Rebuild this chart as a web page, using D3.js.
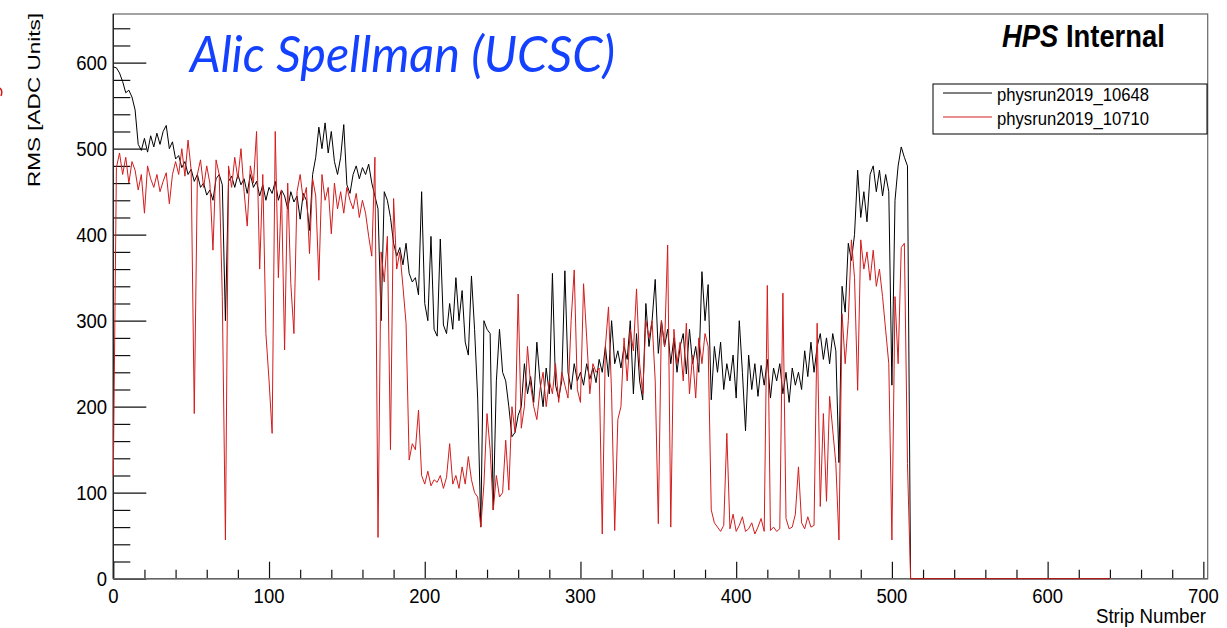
<!DOCTYPE html>
<html>
<head>
<meta charset="utf-8">
<script src="https://cdn.jsdelivr.net/npm/d3@7"></script>
<style>
  html, body { margin: 0; padding: 0; background: #fff; }
  svg { font-family: 'Liberation Sans', Arial, Helvetica, sans-serif; }
</style>
</head>
<body>
<svg id="chart"></svg>
<script>
// RMS per strip, one value every 2 strips (0, 2, 4 ... 510)
const stripStep = 2;
const run10648 = [
  595,594,588,578,565,568,560,545,505,498,512,496,515,502,518,505,
  520,527,500,508,488,492,478,485,470,476,462,470,455,460,446,452,
  440,465,470,458,300,462,468,455,470,458,465,448,470,455,462,445,
  458,440,455,448,462,440,452,445,430,450,438,445,418,448,440,405,
  470,490,525,500,530,495,520,485,470,490,528,458,448,470,480,465,
  478,470,482,460,445,430,300,450,440,420,390,375,385,365,390,355,
  345,350,330,450,320,300,398,290,282,395,295,285,320,290,350,300,
  335,275,260,352,290,210,60,300,290,285,80,230,290,240,230,200,
  165,170,190,200,250,215,235,205,275,230,200,245,215,355,225,210,
  230,358,240,220,250,230,240,225,250,232,245,228,255,240,270,235,
  300,250,265,245,270,255,300,215,285,230,208,320,270,300,348,262,
  300,270,290,250,280,240,270,285,238,290,250,270,240,357,300,342,
  208,270,240,275,220,250,230,260,210,300,240,172,260,220,250,212,
  248,225,255,210,245,230,250,215,240,205,245,225,240,220,265,235,
  275,240,270,285,255,280,250,285,265,135,340,310,390,370,400,475,
  420,450,415,470,480,450,475,445,470,450,225,440,480,502,490,480
];
const run10710 = [
  120,478,495,470,490,460,485,475,452,470,425,480,465,455,470,450,
  462,472,436,470,485,470,500,468,510,475,192,470,487,455,480,460,
  382,487,470,328,45,480,455,490,465,500,450,410,480,460,520,360,
  470,285,231,169,520,350,452,266,460,343,285,450,470,440,455,378,
  465,445,347,470,440,455,401,460,430,450,425,455,440,430,448,420,
  440,425,398,375,490,48,380,345,398,150,442,360,380,340,297,138,
  157,150,196,120,110,125,108,115,112,120,105,118,157,110,120,105,
  130,110,142,115,100,95,60,110,192,150,80,120,95,100,161,103,
  200,170,331,175,200,270,225,200,185,220,240,200,230,215,250,205,
  240,225,210,300,359,220,205,343,280,215,250,240,245,52,270,316,
  215,56,185,200,280,230,290,265,337,250,215,300,280,300,230,64,
  300,270,388,60,290,250,275,230,297,215,260,210,280,250,285,270,
  80,65,60,55,62,169,58,75,55,62,72,55,58,65,52,60,
  70,55,341,56,60,55,58,332,70,58,60,75,130,65,58,72,
  60,62,297,84,192,90,212,173,134,45,308,250,300,394,350,219,
  394,360,380,347,382,340,360,328,289,250,45,328,250,385,390,134
];
// empty strips after the last sensor channel
const tailStrips = [512, 640];
const tailValues = [0, 0];

const seriesNames = ['physrun2019_10648', 'physrun2019_10710'];
const seriesColors = ['#000000', '#d41c1c'];
const yMajorTicks = [0, 100, 200, 300, 400, 500, 600];
const xMajorTicks = [0, 100, 200, 300, 400, 500, 600, 700];

// the picture is slightly stretched vertically, text follows that
const STRETCH = 1.13;

class RmsChart {
  constructor(id) {
    this.svg = d3.select(id)
      .attr('width', 1227)
      .attr('height', 628);
    this.svg.append('rect')
      .attr('width', 1227).attr('height', 628).attr('fill', '#fff');
    this.xScale = d3.scaleLinear().domain([0, 702.8]).range([113.3, 1207.7]);
    this.yScale = d3.scaleLinear().domain([0, 656.6]).range([578.7, 14]);
  }

  toPoints(values) {
    const pts = values.map((v, i) => ({strip: i * stripStep, v: v}));
    tailStrips.forEach((s, i) => pts.push({strip: s, v: tailValues[i]}));
    return pts;
  }

  stretchedText(x, y, str, size, anchor) {
    return this.svg.append('text')
      .attr('transform', `translate(${x},${y}) scale(1,${STRETCH})`)
      .attr('font-size', size)
      .attr('text-anchor', anchor || 'start')
      .attr('fill', '#000')
      .text(str);
  }

  drawFrame() {
    const [x0, x1] = this.xScale.range();
    const [y0, y1] = this.yScale.range();
    this.svg.append('rect')
      .attr('x', x0).attr('y', y1)
      .attr('width', x1 - x0).attr('height', y0 - y1)
      .attr('fill', 'none').attr('stroke', '#666').attr('stroke-width', 1.2);
  }

  drawAxes() {
    const yMinor = d3.range(0, 657, 20).filter(v => v % 100 !== 0);
    const xMinor = d3.range(0, 701, 20).filter(v => v % 100 !== 0);
    const x0 = this.xScale.range()[0];
    const y0 = this.yScale.range()[0];

    const addAxis = (axis, tx, ty) => {
      const g = this.svg.append('g')
        .attr('transform', `translate(${tx},${ty})`)
        .call(axis);
      g.select('.domain').remove();
      g.selectAll('line').attr('stroke', '#111').attr('stroke-width', 1.2);
    };
    addAxis(d3.axisRight(this.yScale).tickValues(yMajorTicks).tickSize(33).tickFormat(''), x0, 0);
    addAxis(d3.axisRight(this.yScale).tickValues(yMinor).tickSize(17).tickFormat(''), x0, 0);
    addAxis(d3.axisTop(this.xScale).tickValues(xMajorTicks).tickSize(17).tickFormat(''), 0, y0);
    addAxis(d3.axisTop(this.xScale).tickValues(xMinor).tickSize(9).tickFormat(''), 0, y0);

    this.svg.append('line')
      .attr('x1', x0).attr('x2', x0)
      .attr('y1', this.yScale.range()[1]).attr('y2', y0)
      .attr('stroke', '#222').attr('stroke-width', 1.3);
    this.svg.append('line')
      .attr('x1', x0).attr('x2', this.xScale.range()[1])
      .attr('y1', y0).attr('y2', y0)
      .attr('stroke', '#666').attr('stroke-width', 1.5);

    yMajorTicks.forEach(v => {
      this.stretchedText(107, this.yScale(v) + 7.5, v, 18.5, 'end');
    });
    xMajorTicks.forEach(v => {
      this.stretchedText(this.xScale(v), 603, v, 18.5, 'middle');
    });

    this.stretchedText(1206, 623, 'Strip Number', 18.7, 'end');
    this.svg.append('text')
      .attr('transform', 'translate(40,13) rotate(-90)')
      .attr('font-size', 17)
      .attr('text-anchor', 'end')
      .attr('textLength', 174)
      .attr('lengthAdjust', 'spacingAndGlyphs')
      .text('RMS [ADC Units]');
  }

  drawSeries() {
    const line = d3.line()
      .x(d => this.xScale(d.strip))
      .y(d => this.yScale(d.v));
    [run10648, run10710].forEach((values, i) => {
      this.svg.append('path')
        .datum(this.toPoints(values))
        .attr('d', line)
        .attr('fill', 'none')
        .attr('stroke', seriesColors[i])
        .attr('stroke-width', 1)
        .attr('stroke-linejoin', 'miter');
    });
  }

  drawLegend() {
    this.svg.append('rect')
      .attr('x', 933).attr('y', 84)
      .attr('width', 274).attr('height', 50)
      .attr('fill', '#fff').attr('stroke', '#000').attr('stroke-width', 1);
    seriesNames.forEach((name, i) => {
      const cy = 93 + i * 24;
      this.svg.append('line')
        .attr('x1', 943).attr('x2', 992)
        .attr('y1', cy).attr('y2', cy)
        .attr('stroke', seriesColors[i]).attr('stroke-width', 1);
      this.stretchedText(997, cy + 7.5, name, 16.6)
        .attr('textLength', 152)
        .attr('lengthAdjust', 'spacingAndGlyphs');
    });
  }

  drawLabels() {
    const hps = this.stretchedText(1002, 47, '', 27.4)
      .attr('font-weight', 'bold');
    hps.append('tspan').attr('font-style', 'italic').text('HPS');
    hps.append('tspan').text(' Internal');

    this.svg.append('text')
      .attr('transform', `translate(190,72) scale(1,${STRETCH})`)
      .style('font-family', "Lato, 'Open Sans', sans-serif")
      .attr('font-style', 'italic')
      .attr('font-size', 44)
      .attr('fill', '#1440ff')
      .attr('textLength', 425)
      .attr('lengthAdjust', 'spacingAndGlyphs')
      .text('Alic Spellman (UCSC)');

    // small cut-off red mark at the left edge
    this.svg.append('path')
      .attr('d', 'M0,88 Q3,91 1,96')
      .attr('fill', 'none').attr('stroke', '#d41c1c').attr('stroke-width', 1.5);
  }
}

const chart = new RmsChart('#chart');
chart.drawFrame();
chart.drawAxes();
chart.drawSeries();
chart.drawLegend();
chart.drawLabels();
</script>
</body>
</html>
